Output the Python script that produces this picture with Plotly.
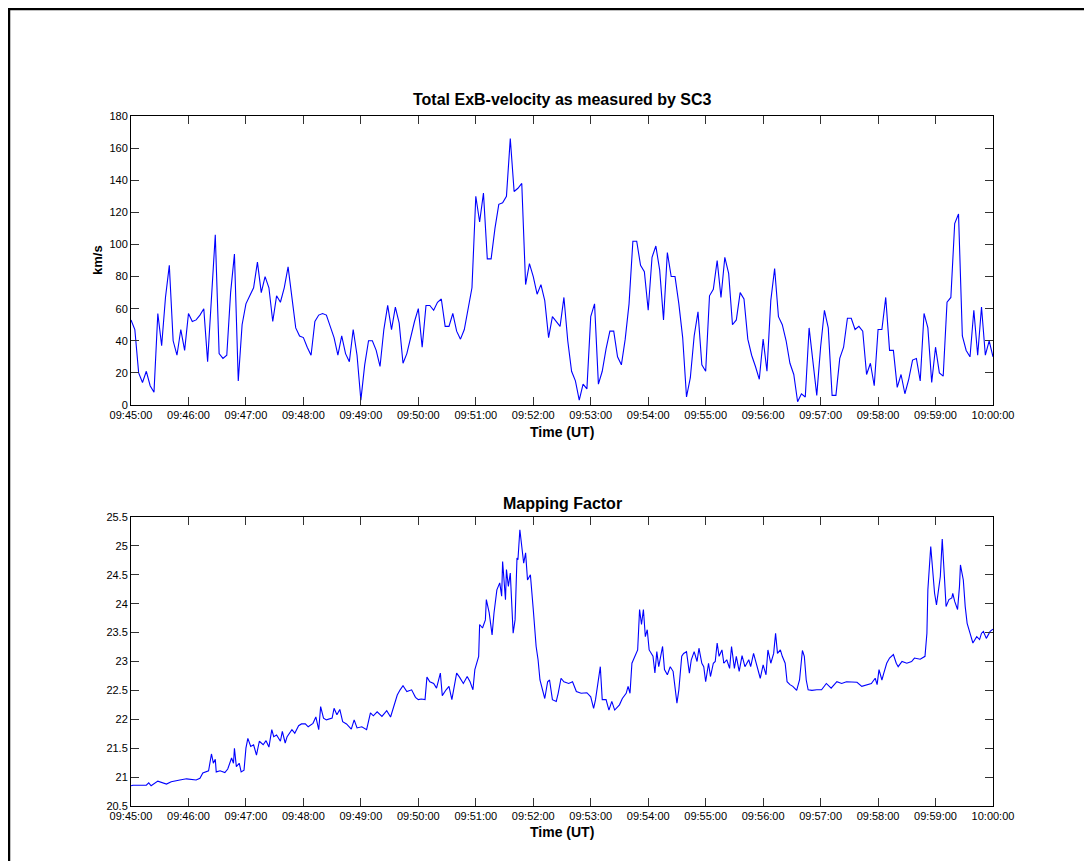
import plotly.graph_objects as go

# ---------------- data ----------------
tick_seconds = [0, 60, 120, 180, 240, 300, 360, 420, 480, 540, 600, 660, 720, 780, 840, 900]
tick_labels = ["09:45:00", "09:46:00", "09:47:00", "09:48:00", "09:49:00", "09:50:00",
               "09:51:00", "09:52:00", "09:53:00", "09:54:00", "09:55:00", "09:56:00",
               "09:57:00", "09:58:00", "09:59:00", "10:00:00"]

# ExB velocity (km/s), one sample every 4 s from 09:45:00
exb_step_s = 4
exb_kms = [
    53, 47, 20, 14, 21, 12, 8, 57, 37, 67,
    87, 40, 31, 47, 34, 57, 52, 53, 56, 60,
    27, 70, 106, 32, 29, 31, 70, 94, 15, 50,
    63, 68, 73, 89, 70, 80, 73, 52, 68, 64,
    73, 86, 68, 48, 43, 42, 36, 31, 52, 56,
    57, 56, 49, 42, 31, 43, 32, 27, 47, 31,
    3, 25, 40, 40, 34, 24, 47, 62, 47, 61,
    51,
    26, 32, 43, 52, 60, 36, 62, 62, 59, 64,
    66, 49, 49, 57, 46, 41, 47, 59, 73, 130,
    114, 132, 91, 91, 110, 125, 126, 130, 166, 133,
    135, 138, 75, 88, 80, 69, 75, 65, 42, 55,
    52, 49, 67, 40, 21, 15, 3, 13, 10, 55,
    63, 13, 21, 35, 46, 46, 30, 25, 41, 63,
    102, 102, 87, 83, 59, 92, 99, 84, 53, 95,
    80, 80, 63,
    42, 5, 17, 43, 58, 25, 21, 68, 72, 90,
    67, 92, 82, 50, 53, 70, 66, 41, 31, 24,
    16, 41, 21, 65, 85, 55, 50, 40, 26, 19,
    2, 7, 5, 48, 26, 6, 36, 59, 48, 6,
    6, 29, 36, 54, 54, 47, 49, 46, 19, 26,
    12, 47, 47, 67, 34, 34, 11, 19, 7, 16,
    28, 29, 15, 57, 48, 14, 36, 20, 18, 64,
    67, 113, 119, 43, 34, 30, 59, 31, 61, 31,
    40, 30,
]
exb_t = [i * exb_step_s for i in range(len(exb_kms))]

# Mapping factor: seconds after 09:45:00 and values
mf_t = [
    0, 2, 16, 18.5, 21, 28, 37, 42, 51, 58, 68, 72, 75, 81, 84, 86, 88, 89, 93, 98,
    101, 105, 107, 108, 110, 113, 115, 118, 120, 122, 125, 128, 131, 134, 138, 141, 144, 147, 149, 152,
    156, 158, 161, 163, 168, 171, 175, 178, 182, 185, 190, 193, 196, 198, 201, 204, 210, 212, 215, 218,
    221, 225, 230, 233, 236, 241, 246, 250, 253, 257, 262, 267, 271, 274, 278, 281,
    284, 288, 293, 297, 300, 303, 307, 309, 312, 316, 319, 323, 325, 329, 332, 335, 337, 340, 343, 347,
    351, 354, 357, 359, 363, 364, 367, 370, 371, 374, 377, 379, 382, 385, 387, 388, 391, 392, 394, 396,
    399, 401, 403, 404, 406, 408, 410, 412, 414, 417, 418, 420, 423, 425, 427, 430, 432, 435, 437, 440,
    444, 446, 449, 452, 457, 461, 465, 470, 476, 480, 483, 485, 488, 490, 492, 496, 499, 502, 505, 510,
    513, 517, 519, 521, 523, 526, 529, 531, 533, 535, 537, 539, 541, 545, 547, 549, 551, 555, 557, 560,
    563, 566, 570, 572,
    575, 577, 580, 583, 585, 588, 591, 593, 596, 598, 600, 603, 605, 608, 610, 612, 614, 617, 619, 622,
    625, 627, 630, 632, 635, 638, 641, 645, 647, 650, 653, 657, 660, 663, 665, 668, 671, 673, 675, 678,
    680, 683, 685, 688, 691, 695, 698, 701, 703, 705, 707, 711, 716, 721, 726, 731, 737, 742, 747, 752,
    758, 763, 768, 773, 777, 779, 781, 784, 786, 789, 792, 796, 799, 801, 805, 810, 815, 818, 824, 829,
    831, 832, 835, 837, 839, 841, 843, 845, 847, 850, 851, 854, 857, 858, 860, 863, 865, 866, 869, 871,
    873, 876, 879, 883, 886, 888, 890, 893, 897, 900,
]
mf_v = [
    20.85, 20.86, 20.86, 20.90, 20.85, 20.93, 20.88, 20.92, 20.95, 20.97, 20.95, 20.98, 21.07, 21.11, 21.40, 21.24, 21.31, 21.09, 21.11, 21.08,
    21.14, 21.33, 21.24, 21.50, 21.18, 21.24, 21.09, 21.12, 21.50, 21.67, 21.53, 21.56, 21.38, 21.62, 21.56, 21.63, 21.52, 21.82, 21.70, 21.73,
    21.62, 21.79, 21.59, 21.70, 21.82, 21.76, 21.89, 21.92, 21.92, 21.87, 21.93, 22.04, 21.82, 22.22, 22.02, 21.99, 22.02, 22.19, 22.08, 22.17,
    21.96, 21.92, 21.83, 21.99, 21.85, 21.87, 21.82, 22.11, 22.06, 22.13, 22.05, 22.15, 22.04, 22.19, 22.42, 22.51,
    22.58, 22.48, 22.51, 22.38, 22.34, 22.35, 22.34, 22.73, 22.65, 22.62, 22.54, 22.80, 22.41, 22.51, 22.57, 22.34, 22.54, 22.80, 22.73, 22.62,
    22.74, 22.65, 22.51, 22.86, 23.09, 23.64, 23.58, 23.72, 24.07, 23.84, 23.46, 23.84, 24.24, 24.36, 24.13, 24.73, 24.07, 24.59, 24.30, 24.53,
    23.49, 23.72, 24.79, 24.76, 25.28, 24.99, 24.70, 24.88, 24.41, 24.50, 24.24, 23.90, 23.26, 23.03, 22.68, 22.48, 22.36, 22.65, 22.68, 22.34,
    22.31, 22.45, 22.71, 22.65, 22.62, 22.65, 22.48, 22.45, 22.46, 22.39, 22.19, 22.34, 22.68, 22.91, 22.34, 22.34, 22.16, 22.31, 22.16, 22.25,
    22.36, 22.45, 22.57, 22.45, 22.97, 23.09, 23.20, 23.90, 23.64, 23.90, 23.43, 23.55, 23.20, 23.09, 22.80, 23.17, 22.91, 23.26, 22.86, 22.77,
    22.91, 22.83, 22.28, 22.51,
    23.09, 23.14, 23.17, 22.80, 23.03, 23.17, 23.00, 23.23, 22.97, 22.91, 22.65, 22.97, 22.74, 22.97, 23.00, 23.32, 23.09, 23.20, 22.97, 23.03,
    22.88, 23.26, 22.88, 23.09, 22.83, 23.10, 22.91, 23.03, 22.91, 23.14, 22.97, 22.71, 22.94, 22.77, 23.20, 22.97, 23.14, 23.49, 23.14, 23.20,
    23.09, 22.97, 22.65, 22.60, 22.57, 22.50, 22.68, 23.19, 23.09, 22.68, 22.51, 22.50, 22.51, 22.51, 22.62, 22.54, 22.65, 22.62, 22.65, 22.64,
    22.64, 22.57, 22.60, 22.62, 22.71, 22.60, 22.86, 22.68, 22.80, 22.97, 23.06, 23.12, 22.97, 22.91, 23.00, 22.97, 23.00, 23.06, 23.04, 23.09,
    23.49, 24.24, 24.99, 24.65, 24.18, 23.98, 24.24, 24.47, 25.12, 24.30, 23.95, 24.07, 24.10, 24.18, 24.04, 23.90, 24.30, 24.67, 24.41, 23.95,
    23.66, 23.49, 23.32, 23.43, 23.38, 23.49, 23.52, 23.40, 23.52, 23.56,
]

# ---------------- figure ----------------
FONT = "Liberation Sans, Arial, Helvetica, sans-serif"
OFF = 8                      # page body margin
W, H = 1084, 853
ML, MR, MT, MB = 123, 99, 108, 55
PW, PH = W - ML - MR, H - MT - MB
PL = OFF + ML                # screen x of plot left
PB = OFF + H - MB            # screen y of plot bottom


def px_x(sx):
    return (sx - PL) / PW


def px_y(sy):
    return (PB - sy) / PH


fig = go.Figure()
fig.add_trace(go.Scatter(x=exb_t, y=exb_kms, mode="lines",
                         line=dict(color="#0000ff", width=1.1), xaxis="x", yaxis="y",
                         hoverinfo="skip", showlegend=False))
fig.add_trace(go.Scatter(x=mf_t, y=mf_v, mode="lines",
                         line=dict(color="#0000ff", width=1.1), xaxis="x2", yaxis="y2",
                         hoverinfo="skip", showlegend=False))

axis_common = dict(showline=True, linecolor="black", linewidth=1, mirror="ticks",
                   ticks="inside", ticklen=8, tickcolor="#333333", tickwidth=1,
                   showgrid=False, zeroline=False,
                   tickfont=dict(family=FONT, size=11, color="black"))

top_dom = [px_y(405), 1.0]
bot_dom = [0.0, px_y(517)]

fig.update_layout(
    width=W, height=H,
    margin=dict(l=ML, r=MR, t=MT, b=MB),
    paper_bgcolor="white", plot_bgcolor="white",
    font=dict(family=FONT, color="black"),
    xaxis=dict(domain=[0, 1], range=[0, 900], tickvals=tick_seconds, ticktext=tick_labels,
               anchor="y", **axis_common),
    yaxis=dict(domain=top_dom, range=[0, 180], dtick=20, tick0=0, anchor="x", **axis_common),
    xaxis2=dict(domain=[0, 1], range=[0, 900], tickvals=tick_seconds, ticktext=tick_labels,
                anchor="y2", **axis_common),
    yaxis2=dict(domain=bot_dom, range=[20.5, 25.5], dtick=0.5, tick0=20.5, anchor="x2", **axis_common),
)

mid_x = px_x((131 + 993) / 2)
annos = [
    dict(text="<b>Total ExB-velocity as measured by SC3</b>", x=mid_x, y=px_y(100), size=16, angle=0),
    dict(text="<b>Time (UT)</b>", x=mid_x, y=px_y(432), size=14, angle=0),
    dict(text="<b>km/s</b>", x=px_x(97), y=px_y(260), size=13, angle=-90),
    dict(text="<b>Mapping Factor</b>", x=mid_x, y=px_y(503), size=16, angle=0),
    dict(text="<b>Time (UT)</b>", x=mid_x, y=px_y(832), size=14, angle=0),
]
for a in annos:
    fig.add_annotation(text=a["text"], x=a["x"], y=a["y"], xref="paper", yref="paper",
                       xanchor="center", yanchor="middle", showarrow=False, textangle=a["angle"],
                       font=dict(family=FONT, size=a["size"], color="black"))

# outer frame (left and top edges)
fig.add_shape(type="line", xref="paper", yref="paper",
              x0=px_x(9), x1=px_x(9), y0=px_y(8), y1=px_y(OFF + H + 5),
              line=dict(color="black", width=2.5))
fig.add_shape(type="line", xref="paper", yref="paper",
              x0=px_x(8), x1=px_x(OFF + W + 5), y0=px_y(9), y1=px_y(9),
              line=dict(color="black", width=2.5))

fig.write_html("out.html")
